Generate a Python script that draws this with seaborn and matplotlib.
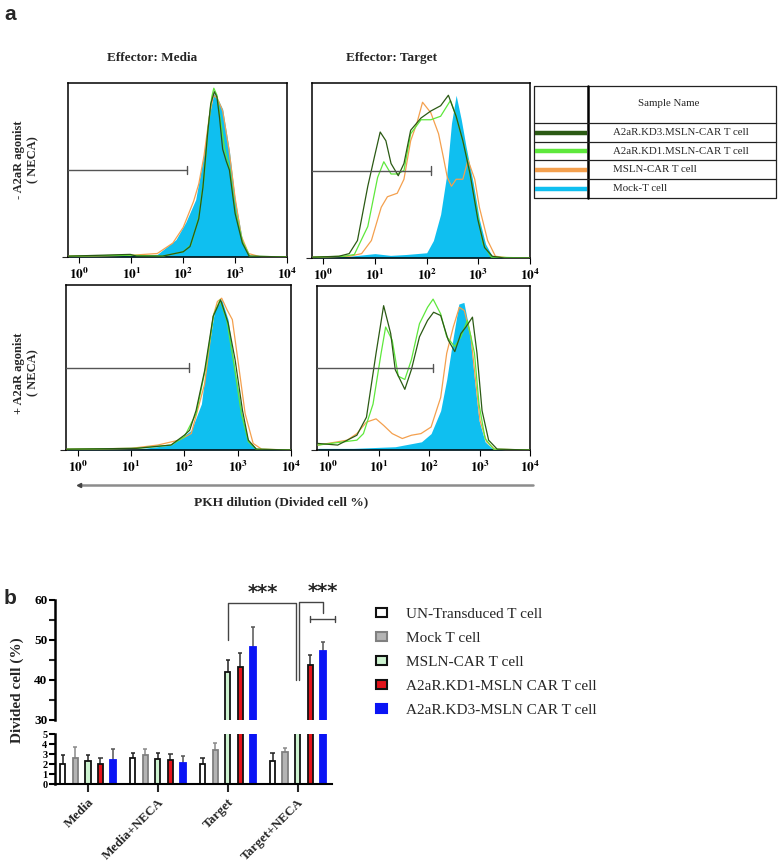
import numpy as np
import pandas as pd
import matplotlib
matplotlib.use('Agg')
import matplotlib.pyplot as plt
import seaborn as sns
from matplotlib.patches import Patch

W, H = 778, 867

# ---- panel a: flow histograms, points are (log10 PKH intensity, % of axis height) ----
# top-left: Media, - NECA
tl_mock = [(-0.2, 0.5), (0.5, 0.5), (1.0, 1), (1.5, 1.5), (1.86, 10), (2.05, 20), (2.24, 33), (2.38, 56),
           (2.51, 83), (2.59, 94), (2.68, 90), (2.76, 85), (2.89, 61), (3.0, 33), (3.14, 10), (3.28, 1),
           (3.5, 0), (4.0, 0)]
tl_msln = [(-0.2, 0.5), (1.0, 1), (1.5, 2), (1.8, 8), (2.0, 17), (2.2, 32), (2.3, 42), (2.4, 58), (2.5, 80),
           (2.58, 93), (2.66, 91), (2.76, 84), (2.88, 62), (3.0, 34), (3.12, 12), (3.26, 2), (3.5, 0), (4.0, 0)]
tl_kd1 = [(-0.2, 0.5), (1.0, 1), (1.6, 0.5), (2.0, 3), (2.15, 7), (2.3, 23), (2.4, 45), (2.48, 74), (2.55, 92),
          (2.59, 97), (2.65, 93), (2.72, 78), (2.8, 62), (2.9, 50), (3.0, 27), (3.14, 9), (3.28, 0.5), (4.0, 0)]
tl_kd3 = [(-0.2, 0.5), (0.98, 1.5), (1.1, 0.5), (1.6, 0.5), (2.0, 3), (2.13, 6), (2.3, 22), (2.38, 40),
          (2.47, 71), (2.53, 88), (2.6, 95), (2.65, 92), (2.7, 80), (2.76, 62), (2.83, 55), (2.89, 50),
          (3.0, 25), (3.14, 8), (3.27, 0.5), (4.0, 0)]

# top-right: Target, - NECA
tr_mock = [(-0.2, 0.5), (0.5, 1), (1.0, 2.5), (1.3, 1.5), (1.6, 2), (2.0, 3), (2.13, 10), (2.27, 25),
           (2.39, 48), (2.48, 77), (2.57, 93), (2.67, 79), (2.76, 64), (2.9, 43), (3.02, 22), (3.14, 8),
           (3.27, 1), (3.5, 0), (4.0, 0)]
tr_msln = [(-0.2, 0.5), (0.5, 1), (0.74, 2.5), (0.93, 10), (1.12, 29), (1.24, 35), (1.43, 37), (1.56, 45),
           (1.69, 67), (1.81, 77), (1.92, 89), (2.08, 83), (2.23, 71), (2.32, 58), (2.4, 46), (2.48, 41),
           (2.57, 45), (2.7, 45), (2.8, 56), (2.93, 45), (3.02, 29), (3.18, 10), (3.33, 1), (3.6, 0), (4.0, 0)]
tr_kd1 = [(-0.2, 0.5), (0.4, 1), (0.6, 2), (0.86, 18), (1.05, 46), (1.17, 55), (1.31, 48), (1.43, 48),
          (1.56, 50), (1.69, 71), (1.89, 79), (2.08, 79), (2.27, 81), (2.46, 90), (2.57, 81), (2.76, 60),
          (2.93, 33), (3.09, 8), (3.25, 0.5), (4.0, 0)]
tr_kd3 = [(-0.2, 0.5), (0.3, 1), (0.5, 2.5), (0.66, 10), (0.86, 41), (0.99, 58), (1.1, 72), (1.21, 67),
          (1.31, 54), (1.45, 47), (1.56, 54), (1.69, 73), (1.89, 80), (2.08, 84), (2.27, 87), (2.42, 93),
          (2.57, 81), (2.7, 67), (2.84, 48), (2.99, 22), (3.12, 6), (3.27, 1), (3.5, 0), (4.0, 0)]

# bottom-left: Media, + NECA
bl_mock = [(-0.2, 0.5), (1.1, 0.5), (1.75, 3), (2.13, 12), (2.32, 28), (2.44, 59), (2.57, 85), (2.7, 91),
           (2.82, 79), (2.95, 48), (3.09, 20), (3.2, 6), (3.36, 0.5), (4.0, 0)]
bl_msln = [(-0.2, 0.5), (1.0, 1), (1.5, 3), (1.9, 6), (2.13, 10), (2.38, 40), (2.54, 81), (2.62, 90),
           (2.7, 92), (2.8, 85), (2.9, 79), (3.01, 53), (3.14, 22), (3.29, 4), (3.45, 0.5), (4.0, 0)]
bl_kd1 = [(-0.2, 0.5), (1.1, 1), (1.75, 3), (2.0, 8), (2.22, 22), (2.4, 50), (2.55, 82), (2.67, 91),
          (2.8, 78), (2.93, 52), (3.07, 22), (3.2, 5), (3.35, 0.5), (4.0, 0)]
bl_kd3 = [(-0.2, 0.5), (1.1, 1), (1.75, 3), (2.0, 9), (2.1, 12), (2.22, 24), (2.38, 48), (2.54, 81),
          (2.68, 91), (2.82, 77), (2.95, 55), (3.09, 24), (3.2, 6), (3.35, 0.5), (4.0, 0)]

# bottom-right: Target, + NECA
br_mock = [(-0.2, 1), (0.5, 1), (1.33, 2), (1.85, 5), (2.04, 10), (2.23, 24), (2.35, 43), (2.48, 69),
           (2.59, 89), (2.69, 90), (2.8, 73), (2.9, 43), (2.99, 18), (3.11, 5), (3.25, 1), (3.5, 0), (4.0, 0)]
br_msln = [(-0.2, 3), (0.38, 6), (0.57, 10), (0.76, 17), (0.95, 19), (1.1, 15), (1.27, 10), (1.47, 7),
           (1.65, 9), (1.84, 10), (2.04, 14), (2.23, 32), (2.35, 59), (2.48, 75), (2.6, 87), (2.7, 85),
           (2.83, 69), (2.92, 43), (3.01, 18), (3.14, 5), (3.3, 0.5), (4.0, 0)]
br_kd1 = [(-0.2, 3), (0.57, 6), (0.7, 10), (0.89, 28), (1.05, 59), (1.14, 75), (1.27, 67), (1.39, 45),
          (1.52, 43), (1.65, 55), (1.81, 77), (1.97, 87), (2.08, 92), (2.23, 83), (2.35, 69), (2.51, 63),
          (2.63, 69), (2.76, 79), (2.9, 59), (2.99, 28), (3.11, 7), (3.28, 0.5), (4.0, 0)]
br_kd3 = [(-0.2, 4), (0.19, 3), (0.57, 9), (0.76, 20), (0.95, 59), (1.1, 88), (1.24, 71), (1.33, 49),
          (1.52, 37), (1.65, 49), (1.81, 69), (1.97, 79), (2.09, 84), (2.23, 82), (2.38, 67), (2.51, 60),
          (2.63, 71), (2.73, 75), (2.86, 81), (2.95, 59), (3.05, 24), (3.18, 6), (3.35, 0.5), (4.0, 0)]

trace_names = ['A2aR.KD3.MSLN-CAR T cell', 'A2aR.KD1.MSLN-CAR T cell', 'MSLN-CAR T cell', 'Mock-T cell']
trace_colors = ['#2b5a14', '#5ee83c', '#f4a04e', '#0fbff0']

# ---- panel b: divided cell % ----
groups = ['Media', 'Media+NECA', 'Target', 'Target+NECA']
cells = ['UN-Transduced T cell', 'Mock T cell', 'MSLN-CAR T cell',
         'A2aR.KD1-MSLN CAR T cell', 'A2aR.KD3-MSLN CAR T cell']
un_mean = [2.0, 2.6, 2.0, 2.35]
un_err = [0.9, 0.5, 0.65, 0.75]
mock_mean = [2.6, 2.9, 3.4, 3.2]
mock_err = [1.1, 0.6, 0.7, 0.4]
msln_mean = [2.3, 2.55, 42.1, 20.0]
msln_err = [0.6, 0.55, 2.9, 2.0]
kd1_mean = [2.0, 2.4, 43.3, 43.75]
kd1_err = [0.6, 0.6, 3.5, 2.5]
kd3_mean = [2.4, 2.15, 48.3, 47.25]
kd3_err = [1.1, 0.65, 4.9, 2.25]

bar_fill = ['#ffffff', '#b4b4b4', '#cdf3d0', '#e3141c', '#0a14f5']
bar_edge = ['#111111', '#808080', '#111111', '#111111', '#0a14f5']
err_color = ['#222222', '#8a8a8a', '#222222', '#333333', '#555555']

sns.set_theme(style='white')
plt.rcParams['font.family'] = ['Liberation Serif', 'DejaVu Serif']
plt.rcParams['mathtext.fontset'] = 'stix'

fig = plt.figure(figsize=(W / 100, H / 100), dpi=100)


def px_axes(l, t, r, b):
    return fig.add_axes([l / W, (H - b) / H, (r - l) / W, (b - t) / H])


# ---- panel a ----
def draw_hist(ax, mock, msln, kd1, kd3):
    m = pd.DataFrame(mock, columns=['logx', 'pct'])
    ax.fill_between(10 ** m['logx'], 0, m['pct'], color=trace_colors[3], lw=0, zorder=1)
    for trace, col in [(msln, trace_colors[2]), (kd1, trace_colors[1]), (kd3, trace_colors[0])]:
        d = pd.DataFrame(trace, columns=['logx', 'pct'])
        d['x'] = 10 ** d['logx']
        sns.lineplot(data=d, x='x', y='pct', color=col, lw=0.9, sort=False, ax=ax, zorder=3)
    ax.set_xscale('log')
    x0 = 10 ** -0.22
    ax.set_xlim(x0, 10 ** 4)
    ax.set_ylim(0, 100)
    ax.set(xlabel='', ylabel='')
    # gate marker
    gate_end = 10 ** 2.08
    ax.plot([x0, gate_end], [50, 50], color='#555555', lw=1, zorder=4)
    ax.plot([gate_end, gate_end], [47.5, 52.5], color='#555555', lw=1, zorder=4)
    ax.set_xticks([1, 10, 100, 1000, 10000])
    ax.set_xticklabels([r'$\mathbf{10^{%d}}$' % i for i in range(5)], fontsize=9.5)
    ax.set_yticks([0])
    ax.set_yticklabels([''])
    ax.tick_params(axis='x', which='major', direction='out', length=4, width=0.8, pad=3,
                   bottom=True, colors='black')
    ax.tick_params(axis='x', which='minor', direction='out', length=2.2, width=0.6, bottom=True)
    ax.tick_params(axis='y', direction='out', length=4, width=0.8, left=True)
    for s in ax.spines.values():
        s.set_color('black')
        s.set_linewidth(1.1)


panels = [((68, 83, 287, 257), tl_mock, tl_msln, tl_kd1, tl_kd3),
          ((312, 83, 530, 258), tr_mock, tr_msln, tr_kd1, tr_kd3),
          ((66, 285, 291, 450), bl_mock, bl_msln, bl_kd1, bl_kd3),
          ((317, 286, 530, 450), br_mock, br_msln, br_kd1, br_kd3)]
for box, mk, ms, k1, k3 in panels:
    draw_hist(px_axes(*box), mk, ms, k1, k3)

# ---- panel b ----
rows = []
for cell, means, errs in zip(cells, [un_mean, mock_mean, msln_mean, kd1_mean, kd3_mean],
                             [un_err, mock_err, msln_err, kd1_err, kd3_err]):
    for g, mval, e in zip(groups, means, errs):
        rows.append({'group': g, 'cell': cell, 'mean': mval, 'err': e})
bars = pd.DataFrame(rows)

ax_top = px_axes(55, 600, 332, 720)
ax_bot = px_axes(55, 734, 332, 784)
cap = 0.03
for ax in (ax_top, ax_bot):
    sns.barplot(data=bars, x='group', y='mean', hue='cell', order=groups, hue_order=cells,
                palette=dict(zip(cells, bar_fill)), saturation=1, width=0.9, gap=0.58,
                errorbar=None, legend=False, ax=ax, zorder=2)
    for cont, cell, ec, errc in zip(ax.containers, cells, bar_edge, err_color):
        sub = bars[bars['cell'] == cell].set_index('group').loc[groups]
        for patch, mval, e in zip(cont, sub['mean'], sub['err']):
            patch.set_edgecolor(ec)
            patch.set_linewidth(1.3)
            xc = patch.get_x() + patch.get_width() / 2
            ax.vlines(xc, mval, mval + e, color=errc, lw=1.1, zorder=1)
            ax.hlines(mval + e, xc - cap, xc + cap, color=errc, lw=1.1, zorder=1)
    ax.set_xlim(-0.47, 3.49)
    ax.set(xlabel='', ylabel='')
    sns.despine(ax=ax, right=True, top=True)
    ax.spines['left'].set_linewidth(1.8)
    ax.spines['left'].set_color('black')
    ax.tick_params(axis='y', direction='out', length=4, width=1.5, left=True, pad=1.5,
                   labelsize=9.5, colors='black')

ax_top.set_ylim(30, 60)
ax_top.set_yticks([30, 40, 50, 60])
ax_top.set_yticks([35, 45, 55], minor=True)
ax_top.tick_params(axis='y', which='minor', direction='out', length=4, width=1.5, left=True)
ax_top.set_yticklabels(['30', '40', '50', '60'], fontweight='bold', fontsize=9.5)
ax_top.spines['bottom'].set_visible(False)
ax_top.set_xticks([])

ax_bot.set_ylim(0, 5)
ax_bot.set_yticks(range(6))
ax_bot.set_yticklabels([str(i) for i in range(6)], fontweight='bold', fontsize=7.5)
ax_bot.spines['bottom'].set_linewidth(1.5)
ax_bot.spines['bottom'].set_color('black')
ax_bot.set_xticks(range(len(groups)))
ax_bot.set_xticklabels(groups, rotation=45, ha='right', rotation_mode='anchor',
                       fontsize=9.5, fontweight='bold')
ax_bot.tick_params(axis='x', direction='out', length=6, width=1.5, bottom=True, pad=3)

# significance brackets
c = ax_top.containers
x_t_msln = c[2][2].get_x() + c[2][2].get_width() / 2
x_tn_msln = c[2][3].get_x() + c[2][3].get_width() / 2
x_tn_kd1 = c[3][3].get_x() + c[3][3].get_width() / 2
x_tn_kd3 = c[4][3].get_x() + c[4][3].get_width() / 2
br_kw = dict(color='#444444', lw=1, clip_on=False)
ax_top.plot([x_t_msln, x_t_msln, x_tn_msln - 0.02, x_tn_msln - 0.02], [50, 59.25, 59.25, 40], **br_kw)
ax_top.plot([x_tn_msln + 0.02, x_tn_msln + 0.02, x_tn_kd3, x_tn_kd3], [40, 59.5, 59.5, 56.75], **br_kw)
sub_r = x_tn_kd3 + (x_tn_kd3 - x_tn_kd1)
ax_top.plot([x_tn_kd1, sub_r], [55.25, 55.25], **br_kw)
ax_top.plot([x_tn_kd1, x_tn_kd1], [54.5, 56], **br_kw)
ax_top.plot([sub_r, sub_r], [54.5, 56], **br_kw)
ax_top.text((x_t_msln + x_tn_msln) / 2, 61.8, '***', ha='center', va='center', fontsize=14,
            fontweight='bold', family='DejaVu Sans', clip_on=False)
ax_top.text((x_tn_kd1 + sub_r) / 2, 62.0, '***', ha='center', va='center', fontsize=14,
            fontweight='bold', family='DejaVu Sans', clip_on=False)

handles = [Patch(facecolor=f, edgecolor=e, linewidth=1.5) for f, e in zip(bar_fill, bar_edge)]
ax_top.legend(handles, cells, loc='upper left', bbox_to_anchor=(376 / W, 1 - 608 / H),
              bbox_transform=fig.transFigure, frameon=False, fontsize=11, handlelength=0.75,
              handleheight=0.45, handletextpad=1.2, labelspacing=0.72, borderpad=0, borderaxespad=0)

# ---- overlay in pixel units for labels, arrow and sample table ----
ov = fig.add_axes([0, 0, 1, 1])
ov.set_xlim(0, W)
ov.set_ylim(H, 0)
ov.axis('off')
ov.patch.set_visible(False)

ov.text(4, 14, 'a', fontsize=15, fontweight='bold', family='Liberation Sans', va='center')
ov.text(4, 599, 'b', fontsize=15, fontweight='bold', family='Liberation Sans', va='center')
ov.text(152, 58, 'Effector: Media', ha='center', va='center', fontsize=9.5, fontweight='bold')
ov.text(392, 58, 'Effector: Target', ha='center', va='center', fontsize=9.5, fontweight='bold')
ov.text(26, 160, '- A2aR agonist\n( NECA)', rotation=90, ha='center', va='center', fontsize=9,
        fontweight='bold', linespacing=1.25)
ov.text(26, 373, '+ A2aR agonist\n( NECA)', rotation=90, ha='center', va='center', fontsize=9,
        fontweight='bold', linespacing=1.25)
ov.plot([80, 533], [485, 485], color='#8c8c8c', lw=1.8)
ov.plot([79], [485], marker='<', ms=3, color='#444444')
ov.text(281, 502, 'PKH dilution (Divided cell %)', ha='center', va='center', fontsize=9.6, fontweight='bold')
ov.text(17, 690, 'Divided cell (%)', rotation=90, ha='center', va='center', fontsize=11, fontweight='bold')

# sample-name table
tl, tr_, tt, tb = 534, 776, 86, 198
row_lines = [123, 142, 160, 179]
ov.plot([tl, tr_, tr_, tl, tl], [tt, tt, tb, tb, tt], color='#222222', lw=0.9)
ov.plot([588, 588], [tt, tb], color='black', lw=1.8)
for y in row_lines:
    ov.plot([tl, tr_], [y, y], color='#222222', lw=0.9)
ov.text(669, 103, 'Sample Name', ha='center', va='center', fontsize=7.8)
row_mid = [(a + b) / 2 for a, b in zip(row_lines, row_lines[1:] + [tb])]
for y, name, col in zip(row_mid, trace_names, trace_colors):
    ov.plot([tl + 1, 587], [y, y], color=col, lw=3.2, solid_capstyle='butt')
    ov.text(613, y, name, ha='left', va='center', fontsize=7.8)

fig.savefig('out.png', dpi=100)
